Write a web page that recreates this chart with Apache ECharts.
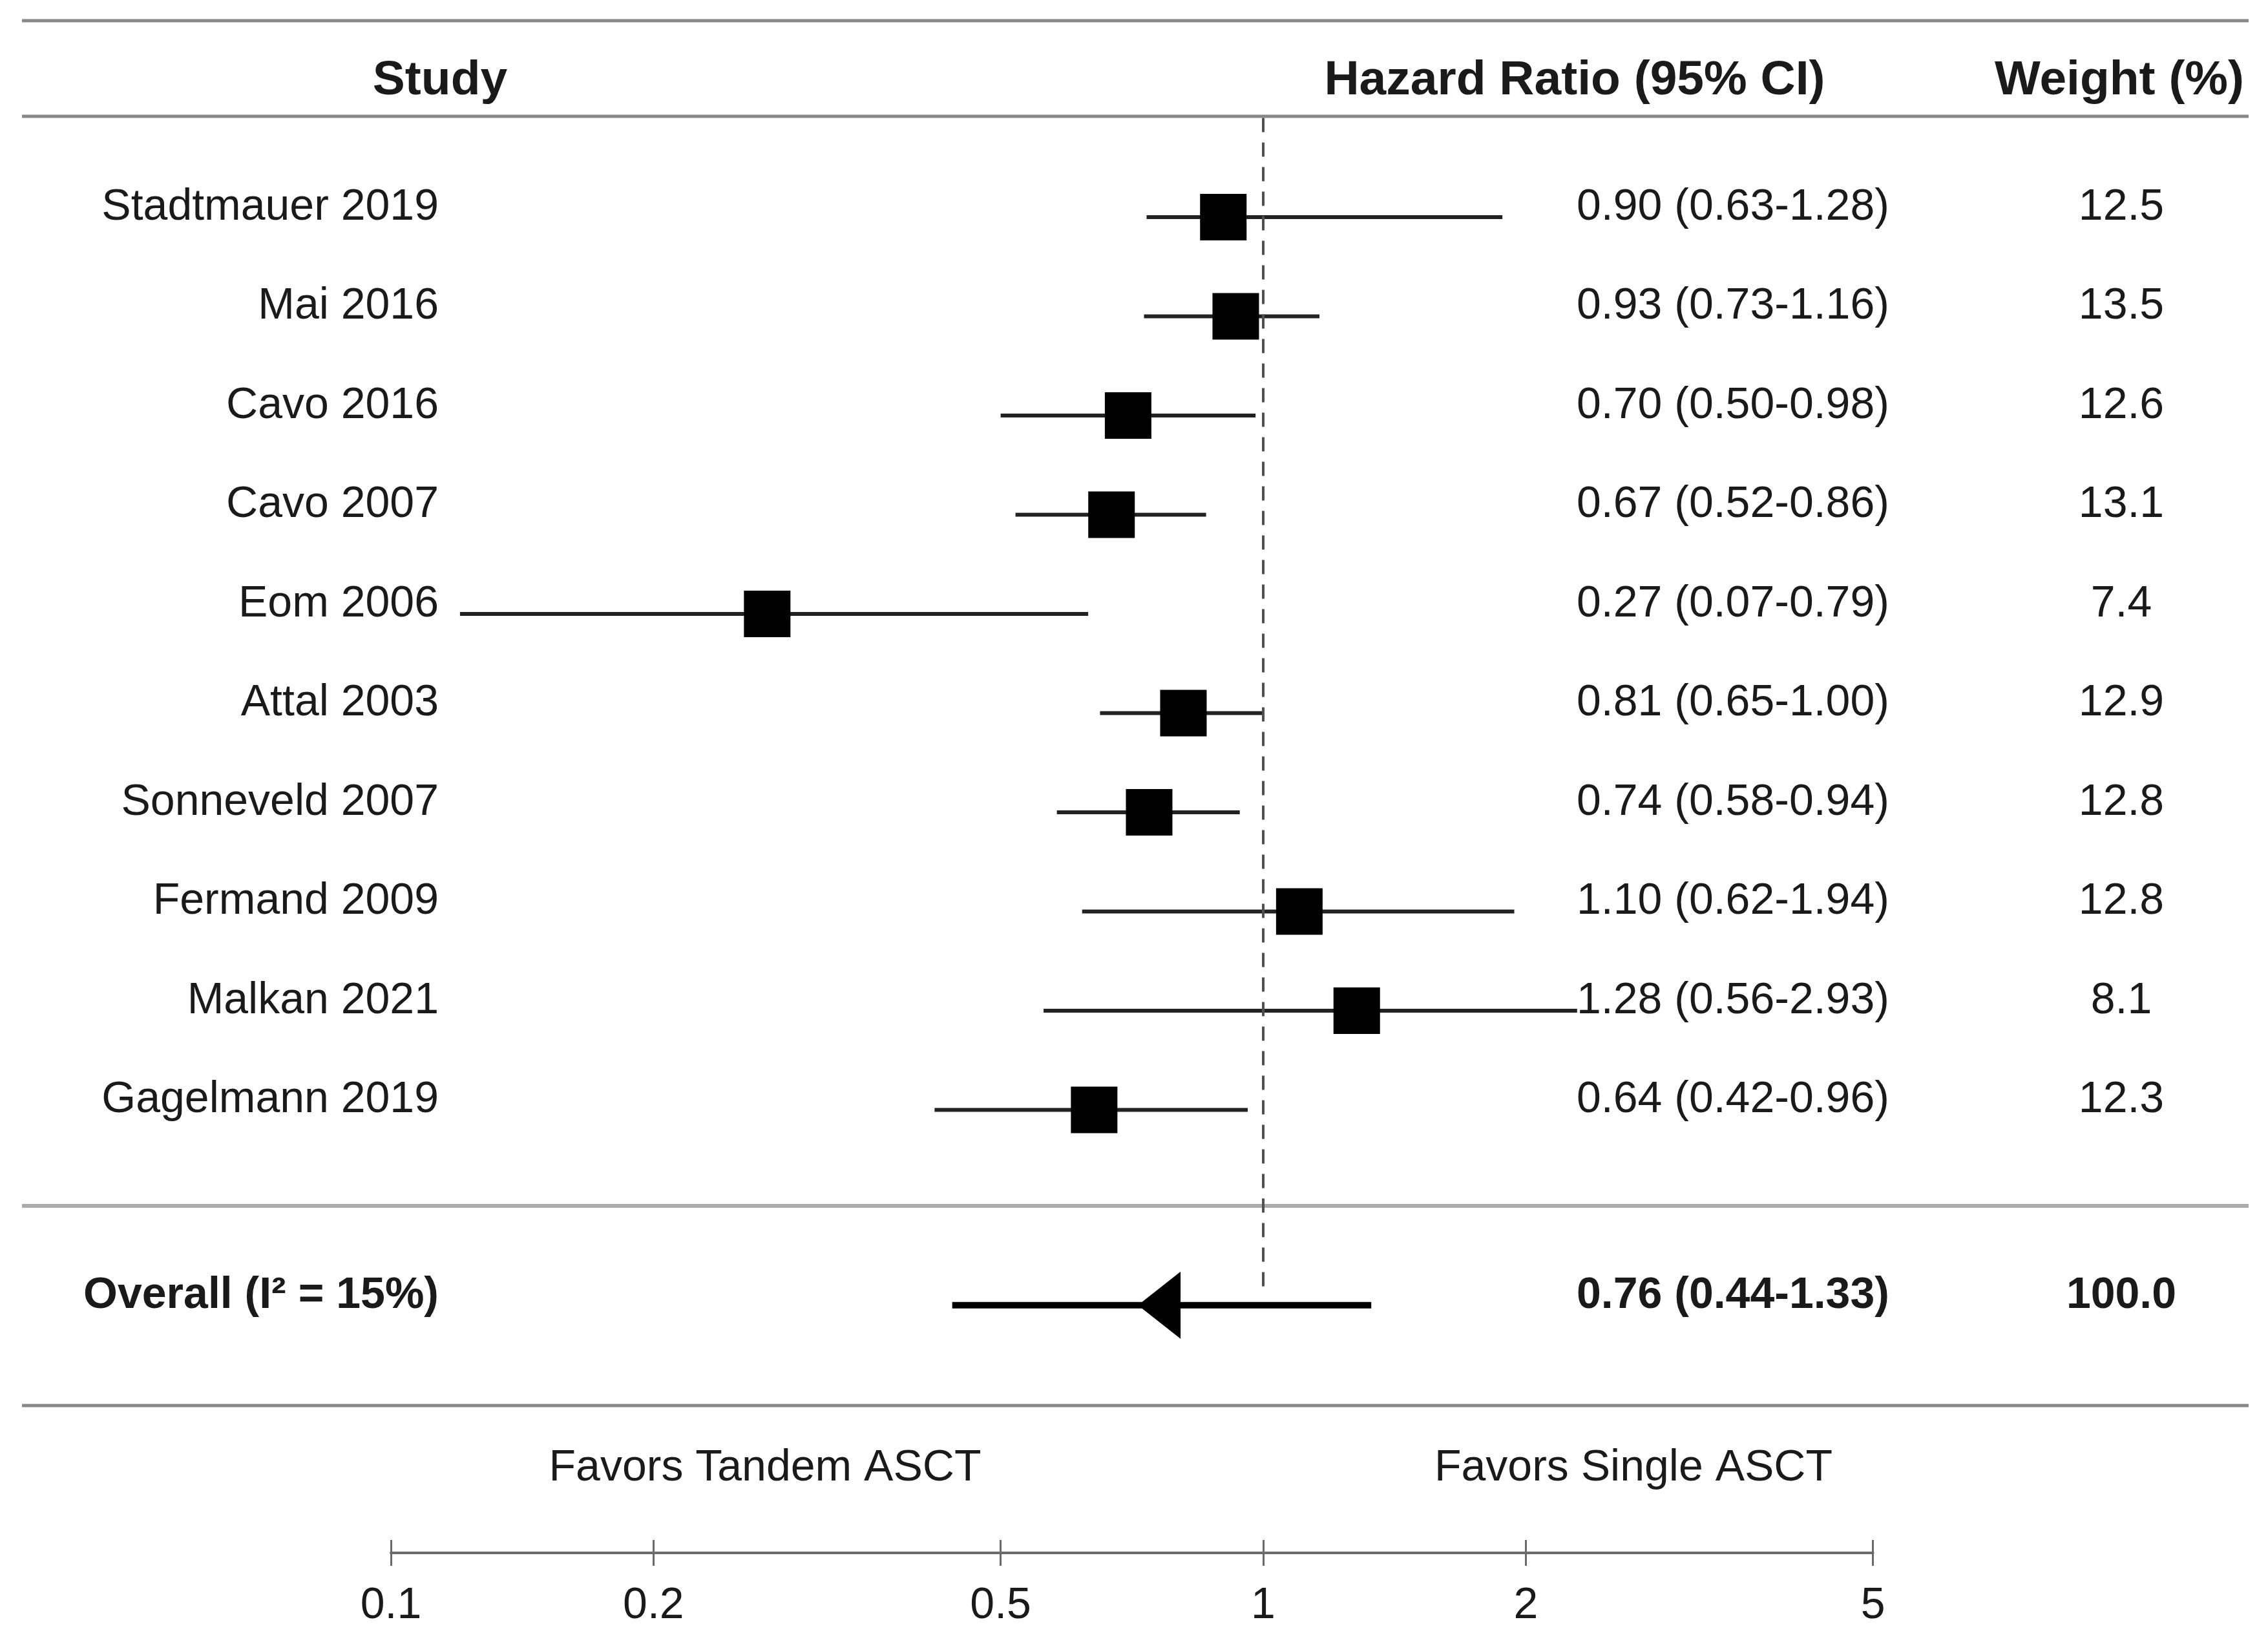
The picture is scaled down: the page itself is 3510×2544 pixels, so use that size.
<!DOCTYPE html>
<html>
<head>
<meta charset="utf-8">
<script src="https://cdn.jsdelivr.net/npm/echarts@6/dist/echarts.min.js"></script>
<style>
html,body{margin:0;padding:0;background:#fff;}
#chart{width:3510px;height:2544px;}
</style>
</head>
<body>
<div id="chart"></div>
<script>
// ---------- data ----------
const studies = ['Stadtmauer 2019','Mai 2016','Cavo 2016','Cavo 2007','Eom 2006','Attal 2003','Sonneveld 2007','Fermand 2009','Malkan 2021','Gagelmann 2019'];
const hazardRatios = [0.90,0.93,0.70,0.67,0.27,0.81,0.74,1.10,1.28,0.64];
// CI whisker ends as drawn in the picture
const ciLow  = [0.735,0.73,0.50,0.52,0.12,0.65,0.58,0.62,0.56,0.42];
const ciHigh = [1.88,1.16,0.98,0.86,0.63,1.00,0.94,1.94,2.29,0.96];
const hrLabels = ['0.90 (0.63-1.28)','0.93 (0.73-1.16)','0.70 (0.50-0.98)','0.67 (0.52-0.86)','0.27 (0.07-0.79)','0.81 (0.65-1.00)','0.74 (0.58-0.94)','1.10 (0.62-1.94)','1.28 (0.56-2.93)','0.64 (0.42-0.96)'];
const weights = ['12.5','13.5','12.6','13.1','7.4','12.9','12.8','12.8','8.1','12.3'];

const overallName = 'Overall (I\u00B2 = 15%)';
const overallHR = 0.76;
const overallLow = 0.44;
const overallHigh = 1.33;
const overallLabel = '0.76 (0.44-1.33)';
const overallWeight = '100.0';

const tickValues = [0.1,0.2,0.5,1,2,5];
const tickLabels = ['0.1','0.2','0.5','1','2','5'];
const headers = ['Study','Hazard Ratio (95% CI)','Weight (%)'];
const favorsLabels = ['Favors Tandem ASCT','Favors Single ASCT'];

// ---------- layout ----------
const FONT = "'Liberation Sans', Arial, Helvetica, sans-serif";
const OVERALL_ROW = 10.97;
const TEXT_DY = -15;
const X_NAME = 679, X_HR = 2440, X_W = 3283;
const L = Math.log10;

const chart = echarts.init(document.getElementById('chart'), null, {renderer:'canvas'});

const rowIdx = studies.map((s,i)=>i);
const tickLogs = tickValues.map(v=>L(v));

function lbl(v){
  const k = tickLogs.findIndex(t=>Math.abs(t-v)<1e-6);
  return k>=0 ? tickLabels[k] : '';
}

function textEl(text, x, y, align, bold, size){
  return {type:'text', style:{text:text, x:x, y:y, align:align, verticalAlign:'middle',
    fontSize:size||68, fontFamily:FONT, fontWeight: bold?'bold':'normal', fill:'#1a1a1a'}};
}

const sepLine = (y, color, w) => ({type:'line', shape:{x1:34,y1:y,x2:3480,y2:y}, style:{stroke:color, lineWidth:w}, silent:true});

const option = {
  backgroundColor:'#ffffff',
  animation:false,
  grid:{left:605, right:611.4, top:29, bottom:141, containLabel:false},
  xAxis:[{
    type:'value', min:-1, max:L(5), position:'bottom',
    axisLine:{show:true, onZero:false, lineStyle:{color:'#6a6a6a', width:4}},
    axisTick:{show:true, customValues:tickLogs, length:20, lineStyle:{color:'#6a6a6a', width:3}},
    axisLabel:{show:true, customValues:tickLogs, formatter:lbl, margin:48, fontSize:68, fontFamily:FONT, color:'#1a1a1a'},
    splitLine:{show:false}
  },{
    type:'value', min:-1, max:L(5), position:'bottom', offset:0,
    axisLine:{show:false, onZero:false},
    axisTick:{show:true, inside:true, customValues:tickLogs, length:20, lineStyle:{color:'#6a6a6a', width:3}},
    axisLabel:{show:false},
    splitLine:{show:false}
  }],
  yAxis:{type:'value', inverse:true, min:-2, max:13.466, show:false},
  graphic:[
    sepLine(32,'#888',5),
    sepLine(180,'#888',5),
    sepLine(1866,'#aaa',6),
    sepLine(2175,'#888',5),
    textEl(headers[0], 681, 125, 'center', true, 75),
    textEl(headers[1], 2437, 125, 'center', true, 75),
    textEl(headers[2], 3280, 125, 'center', true, 75),
    textEl(favorsLabels[0], 1184, 2272, 'center', false, 68),
    textEl(favorsLabels[1], 2528, 2272, 'center', false, 68)
  ],
  series:[
    { // CI whiskers
      type:'custom', clip:false, z:2,
      data: rowIdx.map(i=>[L(ciLow[i]), L(ciHigh[i]), i]),
      encode:{x:[0,1], y:2},
      renderItem:(params, api)=>{
        const p1 = api.coord([api.value(0), api.value(2)]);
        const p2 = api.coord([api.value(1), api.value(2)]);
        return {type:'line', shape:{x1:p1[0],y1:p1[1],x2:p2[0],y2:p2[1]}, style:{stroke:'#222', lineWidth:6}};
      }
    },
    { // point estimates
      type:'scatter', z:4, symbol:'rect', symbolSize:72,
      itemStyle:{color:'#000', opacity:1},
      data: rowIdx.map(i=>[L(hazardRatios[i]), i]),
      markLine:{
        silent:true, symbol:['none','none'], label:{show:false},
        lineStyle:{color:'#505050', width:4, type:[22,16], opacity:1},
        data:[[{coord:[0,-1.0]},{coord:[0,10.85]}]]
      }
    },
    { // overall CI line
      type:'custom', clip:false, z:3,
      data:[[L(overallLow), L(overallHigh), OVERALL_ROW]],
      encode:{x:[0,1], y:2},
      renderItem:(params, api)=>{
        const p1 = api.coord([api.value(0), api.value(2)]);
        const p2 = api.coord([api.value(1), api.value(2)]);
        return {type:'line', shape:{x1:p1[0],y1:p1[1],x2:p2[0],y2:p2[1]}, style:{stroke:'#000', lineWidth:10}};
      }
    },
    { // overall estimate arrow
      type:'scatter', z:5, symbol:'triangle', symbolRotate:90, symbolSize:[104,66],
      itemStyle:{color:'#000', opacity:1},
      data:[[L(overallHR), OVERALL_ROW]]
    },
    { // table text per study
      type:'custom', clip:false, z:6, silent:true,
      data: rowIdx.map(i=>[0, i]),
      encode:{x:0, y:1},
      renderItem:(params, api)=>{
        const i = params.dataIndex;
        const y = api.coord([0, api.value(1)])[1] + TEXT_DY;
        return {type:'group', children:[
          textEl(studies[i], X_NAME, y, 'right', false),
          textEl(hrLabels[i], X_HR, y, 'left', false),
          textEl(weights[i], X_W, y, 'center', false)
        ]};
      }
    },
    { // overall text
      type:'custom', clip:false, z:6, silent:true,
      data:[[0, OVERALL_ROW]],
      encode:{x:0, y:1},
      renderItem:(params, api)=>{
        const y = api.coord([0, api.value(1)])[1] + TEXT_DY;
        return {type:'group', children:[
          textEl(overallName, X_NAME, y, 'right', true),
          textEl(overallLabel, X_HR, y, 'left', true),
          textEl(overallWeight, X_W, y, 'center', true)
        ]};
      }
    }
  ]
};
chart.setOption(option);
</script>
</body>
</html>
